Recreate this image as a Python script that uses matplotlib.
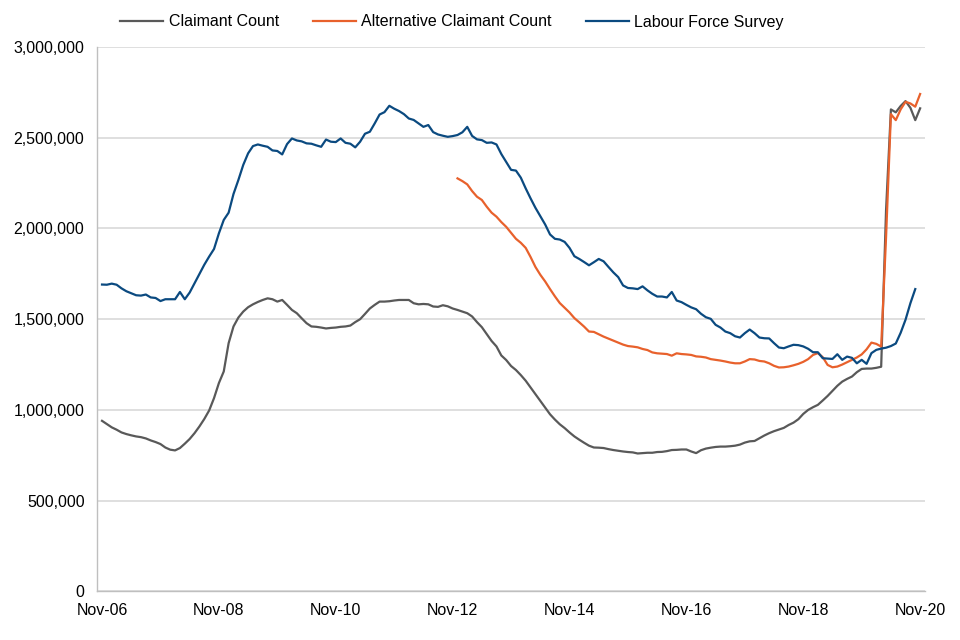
import numpy as np
import pandas as pd
import matplotlib
matplotlib.use("Agg")
import matplotlib.pyplot as plt

plt.rcParams["font.family"] = ["Liberation Sans", "DejaVu Sans"]

# monthly, Nov-06 .. Nov-20
months = pd.date_range("2006-11-01", "2020-11-01", freq="MS")

claimant = [
    940000, 922000, 904000, 891000, 876000, 867000, 860000, 854000, 850000, 843000,
    832000, 823000, 812000, 793000, 781000, 777000, 790000, 814000, 840000, 872000,
    909000, 950000, 997000, 1065000, 1148000, 1212000, 1368000, 1460000, 1509000, 1542000,
    1566000, 1582000, 1595000, 1606000, 1615000, 1610000, 1597000, 1606000, 1579000, 1551000,
    1533000, 1505000, 1478000, 1460000, 1458000, 1454000, 1449000, 1452000, 1454000, 1458000,
    1460000, 1465000, 1484000, 1500000, 1529000, 1559000, 1579000, 1597000, 1597000, 1599000,
    1603000, 1606000, 1606000, 1606000, 1588000, 1582000, 1584000, 1582000, 1570000, 1568000,
    1577000, 1571000, 1559000, 1551000, 1542000, 1533000, 1515000, 1484000, 1456000, 1418000,
    1380000, 1350000, 1300000, 1275000, 1242000, 1220000, 1192000, 1161000, 1124000, 1087000,
    1050000, 1013000, 976000, 947000, 921000, 900000, 876000, 854000, 836000, 819000,
    803000, 793000, 792000, 790000, 784000, 779000, 775000, 771000, 768000, 766000,
    760000, 762000, 764000, 764000, 768000, 769000, 773000, 779000, 780000, 782000,
    782000, 771000, 762000, 778000, 787000, 792000, 796000, 798000, 798000, 800000,
    803000, 809000, 820000, 827000, 829000, 844000, 859000, 872000, 883000, 892000,
    901000, 917000, 930000, 949000, 978000, 1000000, 1015000, 1028000, 1052000, 1077000,
    1105000, 1133000, 1156000, 1171000, 1184000, 1208000, 1226000, 1228000, 1228000, 1232000,
    1238000, 2100000, 2656000, 2640000, 2675000, 2702000, 2665000, 2597000, 2662000,
]

# alternative claimant count starts Dec-12
alt_start = 73
alternative = [
    2276000, 2261000, 2243000, 2206000, 2175000, 2157000, 2120000, 2087000, 2065000, 2035000,
    2009000, 1976000, 1943000, 1921000, 1893000, 1843000, 1788000, 1745000, 1708000, 1666000,
    1626000, 1589000, 1563000, 1537000, 1506000, 1483000, 1459000, 1432000, 1430000, 1417000,
    1404000, 1393000, 1382000, 1371000, 1360000, 1352000, 1349000, 1345000, 1336000, 1330000,
    1317000, 1312000, 1310000, 1308000, 1299000, 1312000, 1308000, 1306000, 1303000, 1295000,
    1293000, 1289000, 1280000, 1276000, 1272000, 1267000, 1261000, 1257000, 1257000, 1267000,
    1280000, 1278000, 1270000, 1267000, 1257000, 1243000, 1234000, 1235000, 1239000, 1246000,
    1254000, 1265000, 1280000, 1303000, 1313000, 1291000, 1248000, 1235000, 1239000, 1250000,
    1263000, 1276000, 1289000, 1306000, 1334000, 1371000, 1364000, 1349000, 1950000, 2630000,
    2597000, 2656000, 2698000, 2689000, 2671000, 2741000,
]

# labour force survey, ends one month earlier
lfs = [
    1691000, 1690000, 1696000, 1690000, 1670000, 1654000, 1643000, 1632000, 1630000, 1636000,
    1620000, 1617000, 1600000, 1610000, 1610000, 1610000, 1650000, 1610000, 1647000, 1698000,
    1750000, 1800000, 1845000, 1887000, 1973000, 2047000, 2087000, 2190000, 2267000, 2350000,
    2414000, 2454000, 2463000, 2456000, 2450000, 2430000, 2427000, 2408000, 2465000, 2496000,
    2485000, 2480000, 2469000, 2467000, 2458000, 2450000, 2490000, 2478000, 2476000, 2496000,
    2472000, 2467000, 2447000, 2478000, 2522000, 2533000, 2579000, 2628000, 2641000, 2676000,
    2660000, 2647000, 2630000, 2606000, 2598000, 2579000, 2560000, 2570000, 2531000, 2518000,
    2511000, 2505000, 2509000, 2515000, 2530000, 2560000, 2510000, 2491000, 2487000, 2472000,
    2474000, 2463000, 2410000, 2367000, 2323000, 2319000, 2280000, 2221000, 2166000, 2114000,
    2068000, 2022000, 1967000, 1943000, 1939000, 1926000, 1893000, 1847000, 1832000, 1815000,
    1797000, 1814000, 1832000, 1819000, 1788000, 1758000, 1732000, 1686000, 1672000, 1670000,
    1666000, 1681000, 1659000, 1640000, 1625000, 1625000, 1620000, 1650000, 1603000, 1594000,
    1579000, 1565000, 1555000, 1530000, 1511000, 1502000, 1469000, 1454000, 1432000, 1423000,
    1406000, 1399000, 1423000, 1443000, 1423000, 1399000, 1395000, 1394000, 1368000, 1344000,
    1340000, 1350000, 1359000, 1357000, 1350000, 1337000, 1318000, 1318000, 1285000, 1283000,
    1281000, 1307000, 1276000, 1294000, 1287000, 1257000, 1276000, 1254000, 1313000, 1331000,
    1338000, 1343000, 1352000, 1366000, 1425000, 1497000, 1588000, 1666000,
]

x = np.arange(len(months))

fig = plt.figure(figsize=(9.6, 6.4), dpi=100)
ax = fig.add_axes([97 / 960, 1 - 591.4 / 640, 828 / 960, 544.4 / 640])

ax.plot(x[:len(claimant)], claimant, color="#595959", lw=1.6, label="Claimant Count", zorder=3)
ax.plot(x[alt_start:alt_start + len(alternative)], alternative, color="#E8612C", lw=1.6,
        label="Alternative Claimant Count", zorder=4)
ax.plot(x[:len(lfs)], lfs, color="#0B4A80", lw=1.6, label="Labour Force Survey", zorder=5)

ax.set_xlim(-1.03, 169.0)
ax.set_ylim(0, 3000000)
ax.set_yticks(np.arange(0, 3000001, 500000))
ax.yaxis.set_major_formatter(matplotlib.ticker.FuncFormatter(lambda v, p: f"{int(v):,}"))
ticks = x[::24]
ax.set_xticks(ticks)
ax.set_xticklabels([months[i].strftime("%b-%y") for i in ticks])

ax.grid(axis="y", color="#d9d9d9", lw=1.2, zorder=0)
ax.set_axisbelow(True)
for s in ["top", "right"]:
    ax.spines[s].set_visible(False)
for s in ["left", "bottom"]:
    ax.spines[s].set_color("#bfbfbf")
    ax.spines[s].set_linewidth(1.0)
ax.tick_params(length=0, labelsize=11.5, colors="black")
ax.tick_params(axis="y", pad=9)
ax.tick_params(axis="x", pad=8)

fig.legend(loc="center", bbox_to_anchor=(452 / 960, 1 - 22 / 640), ncol=3, frameon=False,
           fontsize=11.5, handlelength=2.7, handletextpad=0.35, columnspacing=2.1)

fig.savefig("out.png", dpi=100)
